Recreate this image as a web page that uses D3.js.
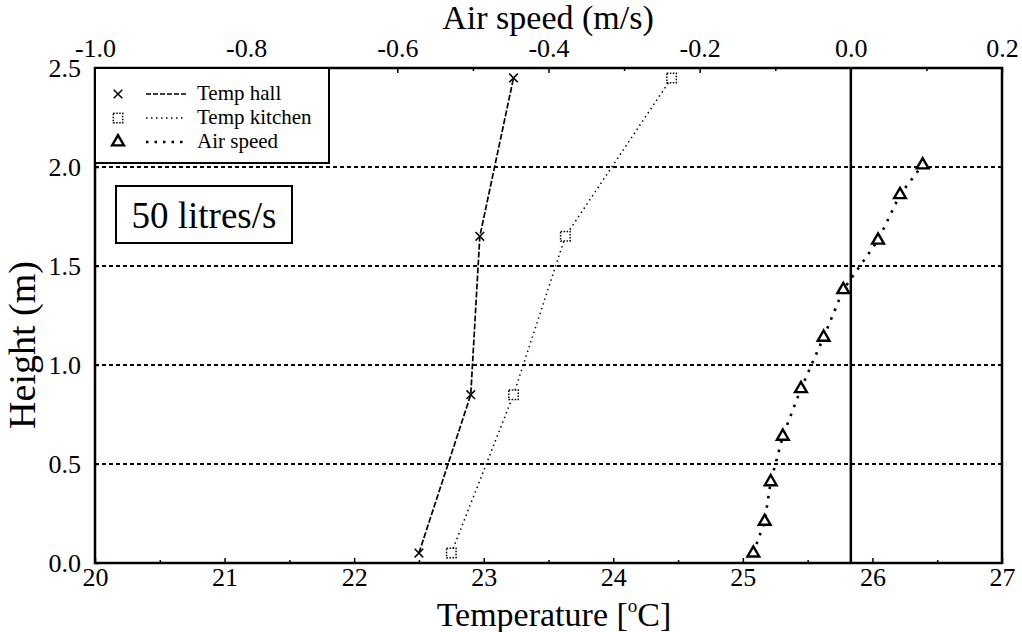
<!DOCTYPE html>
<html>
<head>
<meta charset="utf-8">
<script src="https://cdn.jsdelivr.net/npm/d3@7"></script>
<style>
  body { margin: 0; background: #fff; }
  svg text { font-family: "Liberation Serif", "DejaVu Serif", "Times New Roman", serif; fill: #000; }
</style>
</head>
<body>
<svg id="graphic-svg" width="1022" height="632"></svg>
<script>
var svg = d3.select("#graphic-svg");
var serif = "'Liberation Serif', 'DejaVu Serif', serif";

// Data
var hallHeight = [0.05, 0.85, 1.65, 2.45];
var hallTemp = [22.5, 22.9, 22.97, 23.23];
var kitchenHeight = [0.05, 0.85, 1.65, 2.45];
var kitchenTemp = [22.75, 23.23, 23.63, 24.45];
var speedHeight = [0.05, 0.21, 0.41, 0.64, 0.88, 1.14, 1.38, 1.63, 1.86, 2.01];
var speedValue = [-0.129, -0.114, -0.106, -0.090, -0.066, -0.036, -0.010, 0.036, 0.065, 0.095];
var gridHeights = [0.5, 1.0, 1.5, 2.0];
var legendLabels = ["Temp hall", "Temp kitchen", "Air speed"];

// Layout
var plot = { left: 95, right: 1002, top: 68, bottom: 563 };

// Scales
var xTemp = d3.scaleLinear().domain([20, 27]).range([plot.left, plot.right]);
var xSpeed = d3.scaleLinear().domain([-1.0, 0.2]).range([plot.left, plot.right]);
var yScale = d3.scaleLinear().domain([0, 2.5]).range([plot.bottom, plot.top]);

// Horizontal dashed grid
svg.append("g").selectAll("line")
   .data(gridHeights)
   .enter()
   .append("line")
   .attr("x1", plot.left)
   .attr("x2", plot.right)
   .attr("y1", function(d) { return yScale(d); })
   .attr("y2", function(d) { return yScale(d); })
   .style("stroke", "#000")
   .style("stroke-width", 2)
   .style("stroke-dasharray", "4,3");

// Zero air speed line
svg.append("line")
   .attr("x1", xSpeed(0))
   .attr("x2", xSpeed(0))
   .attr("y1", plot.top)
   .attr("y2", plot.bottom)
   .style("stroke", "#000")
   .style("stroke-width", 2.5);

// Axes
var fontSize = "26px";
var fmt1 = function(d) { return (Math.abs(d) < 1e-9 ? 0 : d).toFixed(1); }; // plain hyphen minus
function styleAxis(g) {
  g.attr("font-family", serif);
  g.select(".domain").remove();
  g.selectAll(".tick line").style("stroke", "#000").style("stroke-width", 1.5);
  g.selectAll(".tick text").style("font-size", fontSize).style("font-family", serif);
}
svg.append("g")
   .attr("transform", "translate(0," + plot.bottom + ")")
   .call(d3.axisBottom(xTemp).ticks(7).tickFormat(d3.format("d")).tickSizeInner(-5).tickSizeOuter(0).tickPadding(5))
   .call(styleAxis);
svg.append("g")
   .attr("transform", "translate(0," + plot.bottom + ")")
   .call(d3.axisBottom(xTemp).tickValues(d3.range(20.5, 27, 1)).tickFormat("").tickSizeInner(-3).tickSizeOuter(0))
   .call(styleAxis);
svg.append("g")
   .attr("transform", "translate(0," + plot.top + ")")
   .call(d3.axisTop(xSpeed).tickValues(d3.range(-1.0, 0.21, 0.2)).tickFormat(fmt1).tickSizeInner(-5).tickSizeOuter(0).tickPadding(11))
   .call(styleAxis);
svg.append("g")
   .attr("transform", "translate(0," + plot.top + ")")
   .call(d3.axisTop(xSpeed).tickValues(d3.range(-0.9, 0.2, 0.2)).tickFormat("").tickSizeInner(-3).tickSizeOuter(0))
   .call(styleAxis);
svg.append("g")
   .attr("transform", "translate(" + plot.left + ",0)")
   .call(d3.axisLeft(yScale).tickValues([0, 0.5, 1.0, 1.5, 2.0, 2.5]).tickFormat(fmt1).tickSizeInner(-4).tickSizeOuter(0).tickPadding(14))
   .call(styleAxis);

// Frame
svg.append("rect")
   .attr("x", plot.left)
   .attr("y", plot.top)
   .attr("width", plot.right - plot.left)
   .attr("height", plot.bottom - plot.top)
   .style("fill", "none")
   .style("stroke", "#000")
   .style("stroke-width", 2.5);

// Series lines
function seriesLine(xs, ys, xsc, dash, width) {
  var pts = xs.map(function(v, i) { return [xsc(v), yScale(ys[i])]; });
  svg.append("path")
     .attr("d", d3.line()(pts))
     .style("fill", "none")
     .style("stroke", "#000")
     .style("stroke-width", width)
     .style("stroke-dasharray", dash);
  return pts;
}
var hallPts = seriesLine(hallTemp, hallHeight, xTemp, "6,2", 1.7);
var kitchenPts = seriesLine(kitchenTemp, kitchenHeight, xTemp, "1.5,3.5", 1.5);
var speedPts = seriesLine(speedValue, speedHeight, xSpeed, "2.5,7", 2.6);

// Markers
var cross = d3.symbol().type(d3.symbolX).size(50);
var square = d3.symbol().type(d3.symbolSquare).size(90);
var tri = d3.symbol().type(d3.symbolTriangle).size(60);
function markers(pts, sym, dash, width) {
  svg.append("g").selectAll("path")
     .data(pts)
     .enter()
     .append("path")
     .attr("d", sym)
     .attr("transform", function(d) { return "translate(" + d[0] + "," + d[1] + ")"; })
     .style("fill", "#fff")
     .style("stroke", "#000")
     .style("stroke-width", width)
     .style("stroke-dasharray", dash);
}
markers(hallPts, cross, null, 1.5);
markers(kitchenPts, square, "1.5,1.5", 1.5);
markers(speedPts, tri, null, 2.4);

// Legend
var legend = svg.append("g");
legend.append("rect")
      .attr("x", plot.left)
      .attr("y", plot.top)
      .attr("width", 234)
      .attr("height", 95)
      .style("fill", "#fff")
      .style("stroke", "#000")
      .style("stroke-width", 2);
var legendSyms = [cross, square, tri];
var legendDash = [["5,2", 1.5], ["1.5,3.5", 1.5], ["2.5,6", 2.4]];
legendLabels.forEach(function(label, i) {
  var yy = 94 + i * 24;
  legend.append("path")
        .attr("d", legendSyms[i])
        .attr("transform", "translate(118," + yy + ")")
        .style("fill", "#fff")
        .style("stroke", "#000")
        .style("stroke-width", i == 2 ? 2.4 : 1.5)
        .style("stroke-dasharray", i == 1 ? "1.5,1.5" : null);
  legend.append("line")
        .attr("x1", 146)
        .attr("x2", 186)
        .attr("y1", yy)
        .attr("y2", yy)
        .style("stroke", "#000")
        .style("stroke-width", legendDash[i][1])
        .style("stroke-dasharray", legendDash[i][0]);
  legend.append("text")
        .attr("x", 197)
        .attr("y", yy + 6)
        .style("font-size", "21px")
        .text(label);
});

// Flow rate box
svg.append("rect")
   .attr("x", 116)
   .attr("y", 186)
   .attr("width", 176)
   .attr("height", 57)
   .style("fill", "#fff")
   .style("stroke", "#000")
   .style("stroke-width", 2);
svg.append("text")
   .attr("x", 204)
   .attr("y", 228)
   .style("font-size", "37px")
   .style("text-anchor", "middle")
   .text("50 litres/s");

// Axis titles
svg.append("text")
   .attr("x", 548)
   .attr("y", 29)
   .style("font-size", "34px")
   .style("text-anchor", "middle")
   .text("Air speed (m/s)");
var xTitle = svg.append("text")
   .attr("x", 554)
   .attr("y", 626)
   .style("font-size", "34px")
   .style("text-anchor", "middle");
xTitle.append("tspan").text("Temperature [");
xTitle.append("tspan").attr("dy", -14).style("font-size", "19px").text("o");
xTitle.append("tspan").attr("dy", 14).text("C]");
svg.append("text")
   .attr("transform", "translate(35,345) rotate(-90)")
   .style("font-size", "38px")
   .style("text-anchor", "middle")
   .text("Height (m)");
</script>
</body>
</html>
